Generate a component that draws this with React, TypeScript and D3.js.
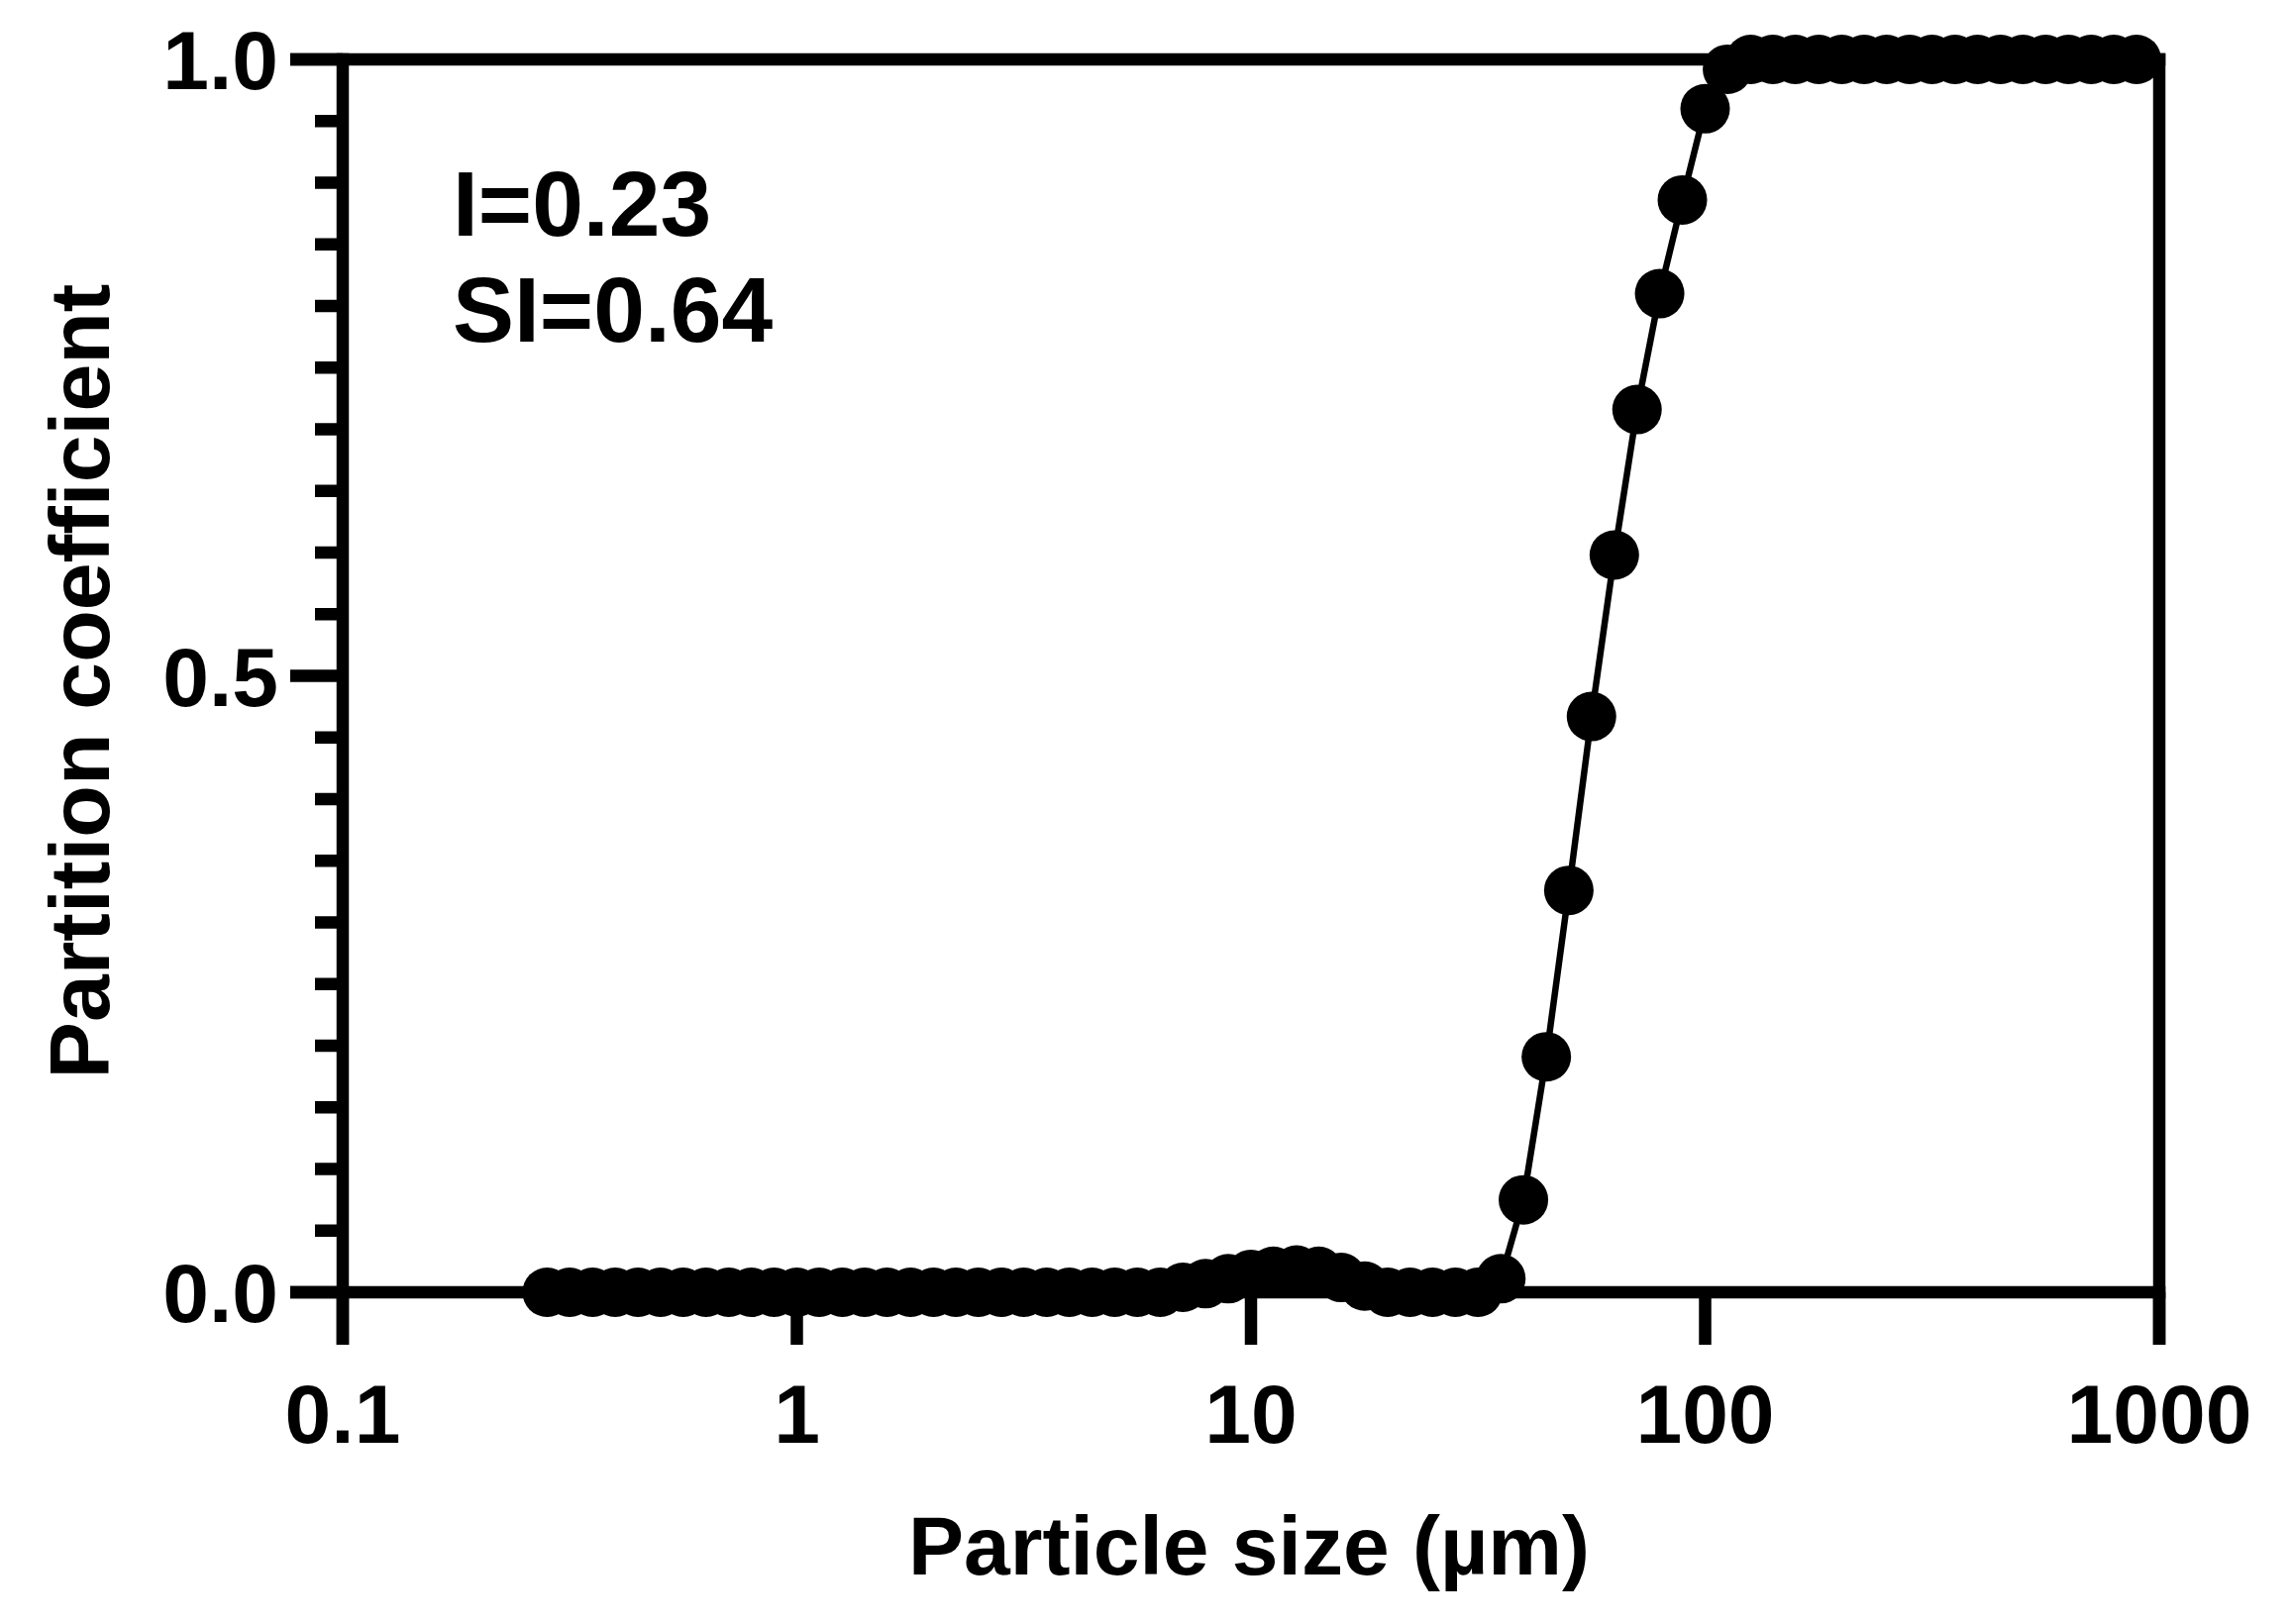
import React from "react";
import * as d3 from "d3";

// Particle size classes (µm)
const sizes: number[] = [
  0.282, 0.316, 0.355, 0.398, 0.447, 0.501, 0.562, 0.631, 0.708, 0.794, 0.891,
  1.0, 1.12, 1.26, 1.41, 1.58, 1.78, 2.0, 2.24, 2.51, 2.82, 3.16, 3.55, 3.98, 4.47, 5.01, 5.62, 6.31, 7.08, 7.94, 8.91,
  10.0, 11.2, 12.6, 14.1, 15.8, 17.8, 20.0, 22.4, 25.1, 28.2, 31.6, 35.5, 39.8, 44.7, 50.1, 56.2, 63.1, 70.8, 79.4, 89.1,
  100, 112, 126, 141, 158, 178, 200, 224, 251, 282, 316, 355, 398, 447, 501, 562, 631, 708, 794, 891,
];

// Partition coefficient per size class
const coefficients: number[] = [
  0, 0, 0, 0, 0, 0, 0, 0, 0, 0, 0,
  0, 0, 0, 0, 0, 0, 0, 0, 0, 0, 0, 0, 0, 0, 0, 0, 0, 0.004, 0.007, 0.011,
  0.0145, 0.017, 0.018, 0.017, 0.012, 0.005, 0, 0, 0, 0, 0, 0.011, 0.075, 0.191, 0.326, 0.467, 0.598, 0.716, 0.81, 0.886,
  0.96, 0.992, 1, 1, 1, 1, 1, 1, 1, 1, 1, 1, 1, 1, 1, 1, 1, 1, 1, 1,
];

const xTickValues: number[] = [0.1, 1, 10, 100, 1000];
const xTickLabels: string[] = ["0.1", "1", "10", "100", "1000"];
const yMajorTicks: number[] = [0, 0.5, 1];
const yMajorLabels: string[] = ["0.0", "0.5", "1.0"];
const yMinorTicks: number[] = d3.range(1, 20).map((i) => i / 20).filter((v) => Math.abs(v - 0.5) > 1e-9);

const xTitle = "Particle size (µm)";
const yTitle = "Partition coefficient";
const annotations: string[] = ["I=0.23", "SI=0.64"];

const W = 2313;
const H = 1640;
const FONT = "'Liberation Sans', Arial, Helvetica, sans-serif";

export default function App() {
  const x = d3.scaleLog().domain([0.1, 1000]).range([346, 2180]);
  const y = d3.scaleLinear().domain([0, 1]).range([1305, 60]);

  const axisW = 12.5;
  const majorLen = 53;
  const minorLen = 28;
  const x0 = x(0.1);
  const x1 = x(1000);
  const y0 = y(0);
  const y1 = y(1);

  const pts = sizes.map((s, i) => [x(s), y(coefficients[i])] as [number, number]);
  const line = d3.line<[number, number]>()(pts) || "";

  return (
    <svg
      width={W}
      height={H}
      viewBox={`0 0 ${W} ${H}`}
      style={{ position: "absolute", left: 0, top: 0, background: "#fff" }}
    >
      <rect x={0} y={0} width={W} height={H} fill="#fff" />

      {/* data line */}
      <path d={line} fill="none" stroke="#000" strokeWidth={6.5} />
      {/* markers */}
      {pts.map((p, i) => (
        <circle key={i} cx={p[0]} cy={p[1]} r={25} fill="#000" />
      ))}

      {/* frame / axes */}
      <g stroke="#000" strokeWidth={axisW} strokeLinecap="butt">
        <line x1={x0} x2={x0} y1={y1 - axisW / 2} y2={y0 + majorLen} />
        <line x1={x1} x2={x1} y1={y1 - axisW / 2} y2={y0 + majorLen} />
        <line x1={x0 - majorLen} x2={x1 + axisW / 2} y1={y1} y2={y1} />
        <line x1={x0 - majorLen} x2={x1 + axisW / 2} y1={y0} y2={y0} />
        {yMajorTicks.map((v, i) => (
          <line key={"ym" + i} x1={x0 - majorLen} x2={x0} y1={y(v)} y2={y(v)} />
        ))}
        {yMinorTicks.map((v, i) => (
          <line key={"yn" + i} x1={x0 - minorLen} x2={x0} y1={y(v)} y2={y(v)} />
        ))}
        {xTickValues.map((v, i) => (
          <line key={"xt" + i} x1={x(v)} x2={x(v)} y1={y0} y2={y0 + majorLen} />
        ))}
      </g>

      {yMajorTicks.map((v, i) => (
        <text
          key={"yl" + i}
          x={281}
          y={y(v) + 30}
          textAnchor="end"
          fontFamily={FONT}
          fontWeight="bold"
          fontSize={84}
          fill="#000"
        >
          {yMajorLabels[i]}
        </text>
      ))}

      {xTickValues.map((v, i) => (
        <text
          key={"xl" + i}
          x={x(v)}
          y={1457}
          textAnchor="middle"
          fontFamily={FONT}
          fontWeight="bold"
          fontSize={84}
          fill="#000"
        >
          {xTickLabels[i]}
        </text>
      ))}

      <text
        x={1261}
        y={1590}
        textAnchor="middle"
        fontFamily={FONT}
        fontWeight="bold"
        fontSize={84}
        fill="#000"
      >
        {xTitle}
      </text>
      <text
        transform={`translate(110, 688) rotate(-90)`}
        textAnchor="middle"
        fontFamily={FONT}
        fontWeight="bold"
        fontSize={86}
        fill="#000"
      >
        {yTitle}
      </text>

      {annotations.map((t, i) => (
        <text
          key={"an" + i}
          x={457}
          y={238 + i * 107}
          fontFamily={FONT}
          fontWeight="bold"
          fontSize={93}
          fill="#000"
        >
          {t}
        </text>
      ))}
    </svg>
  );
}
